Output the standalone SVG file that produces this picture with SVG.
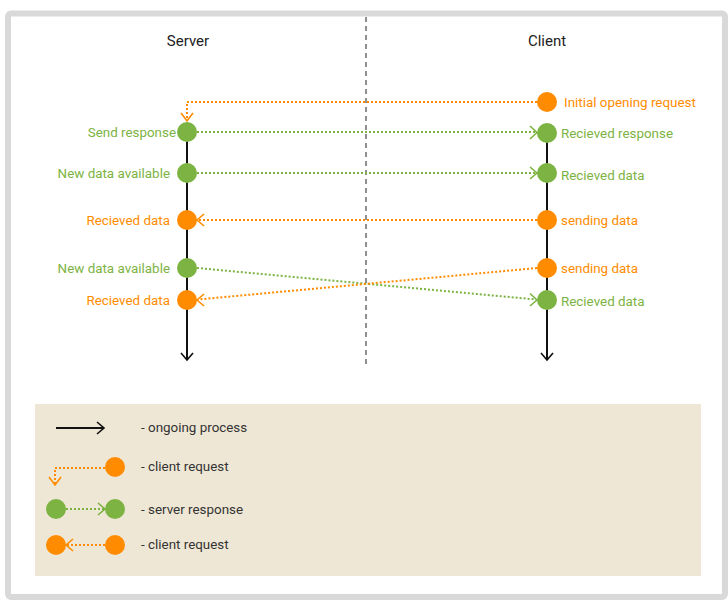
<svg xmlns="http://www.w3.org/2000/svg" width="728" height="602" viewBox="0 0 728 602">
  <defs>
    <style>
      text { font-family: Roboto, "Liberation Sans", sans-serif; font-size: 13.4px; }
      .title { font-size: 15px; fill: #222; }
      .lg { fill: #7cb342; }
      .lo { fill: #ff8c00; }
      .ln { fill: #333; }
      .ng { fill: #7cb342; }
      .no { fill: #ff8c00; }
      .life { stroke: #111; stroke-width: 2; fill: none; }
      .dg { stroke: #7cb342; stroke-width: 2; stroke-dasharray: 2 2; fill: none; }
      .do { stroke: #ff8c00; stroke-width: 2; stroke-dasharray: 2 2; fill: none; }
      .hg { stroke: #7cb342; stroke-width: 1.6; fill: none; }
      .ho { stroke: #ff8c00; stroke-width: 1.6; fill: none; }
      .hk { stroke: #111; stroke-width: 1.6; fill: none; }
    </style>
  </defs>

  <!-- frame -->
  <rect x="8" y="13.5" width="717" height="583.5" rx="3" fill="#fff" stroke="#d9d9d9" stroke-width="6"/>

  <!-- separator -->
  <line x1="366" y1="17" x2="366" y2="365" stroke="#555" stroke-width="1.3" stroke-dasharray="5 4"/>

  <text class="title" x="188" y="46" text-anchor="middle">Server</text>
  <text class="title" x="547" y="46" text-anchor="middle">Client</text>

  <!-- lifelines -->
  <g id="lifelines">
    <line class="life" x1="187" y1="132" x2="187" y2="360"/>
    <polyline class="hk" points="181,353 187,360 193,353"/>
    <line class="life" x1="547" y1="133" x2="547" y2="360"/>
    <polyline class="hk" points="541,353 547,360 553,353"/>
  </g>

  <!-- connectors -->
  <g id="connectors">
    <polyline class="do" points="537,102 187,102 187,121"/>
    <polyline class="ho" points="181,113 187,121 193,113"/>

    <line class="dg" x1="197" y1="132" x2="536" y2="132"/>
    <polyline class="hg" points="530,126 537,132.5 530,139"/>

    <line class="dg" x1="197" y1="173" x2="536" y2="173"/>
    <polyline class="hg" points="530,167 537,173 530,179"/>

    <line class="do" x1="537" y1="220" x2="198" y2="220"/>
    <polyline class="ho" points="204,214 197,220 204,226"/>

    <line class="dg" x1="197" y1="268" x2="536" y2="299.5"/>
    <polyline class="hg" points="530,293.5 537,300 530,306"/>

    <line class="do" x1="537" y1="268" x2="198" y2="299.5"/>
    <polyline class="ho" points="204,294 197,300 204,306"/>
  </g>

  <!-- server nodes -->
  <g id="s-send-response"><circle class="ng" cx="187" cy="132" r="10"/><text class="lg" x="176" y="137" text-anchor="end">Send response</text></g>
  <g id="s-new-data-1"><circle class="ng" cx="187" cy="173" r="10"/><text class="lg" x="170" y="178" text-anchor="end">New data available</text></g>
  <g id="s-received-1"><circle class="no" cx="187" cy="220" r="10"/><text class="lo" x="170" y="225" text-anchor="end">Recieved data</text></g>
  <g id="s-new-data-2"><circle class="ng" cx="187" cy="268" r="10"/><text class="lg" x="170" y="273" text-anchor="end">New data available</text></g>
  <g id="s-received-2"><circle class="no" cx="187" cy="300" r="10"/><text class="lo" x="170" y="305" text-anchor="end">Recieved data</text></g>

  <!-- client nodes -->
  <g id="c-initial"><circle class="no" cx="547" cy="102" r="10"/><text class="lo" x="564" y="107">Initial opening request</text></g>
  <g id="c-received-response"><circle class="ng" cx="547" cy="133" r="10"/><text class="lg" x="561" y="138">Recieved response</text></g>
  <g id="c-received-1"><circle class="ng" cx="547" cy="173" r="10"/><text class="lg" x="561" y="180">Recieved data</text></g>
  <g id="c-sending-1"><circle class="no" cx="547" cy="220" r="10"/><text class="lo" x="561" y="225">sending data</text></g>
  <g id="c-sending-2"><circle class="no" cx="547" cy="268" r="10"/><text class="lo" x="561" y="273">sending data</text></g>
  <g id="c-received-2"><circle class="ng" cx="547" cy="300" r="10"/><text class="lg" x="561" y="306">Recieved data</text></g>

  <!-- legend -->
  <g id="legend">
    <rect x="35" y="404" width="666" height="172" fill="#efe7d5"/>
    <line x1="56" y1="428" x2="103" y2="428" stroke="#111" stroke-width="2"/>
    <polyline class="hk" points="97,422 104,428 97,434"/>
    <text class="ln" x="141" y="432">- ongoing process</text>

    <polyline class="do" points="105,468 55,468 55,484"/>
    <polyline class="ho" points="49,477 55,485 61,477"/>
    <circle class="no" cx="115" cy="467" r="10"/>
    <text class="ln" x="141" y="471">- client request</text>

    <line class="dg" x1="66" y1="509" x2="104" y2="509"/>
    <polyline class="hg" points="98,503 105,509 98,515"/>
    <circle class="ng" cx="56" cy="509" r="10"/>
    <circle class="ng" cx="115" cy="509" r="10"/>
    <text class="ln" x="141" y="514">- server response</text>

    <line class="do" x1="105" y1="545" x2="67" y2="545"/>
    <polyline class="ho" points="73,539 66,545 73,551"/>
    <circle class="no" cx="56" cy="545" r="10"/>
    <circle class="no" cx="115" cy="545" r="10"/>
    <text class="ln" x="141" y="549">- client request</text>
  </g>
</svg>
